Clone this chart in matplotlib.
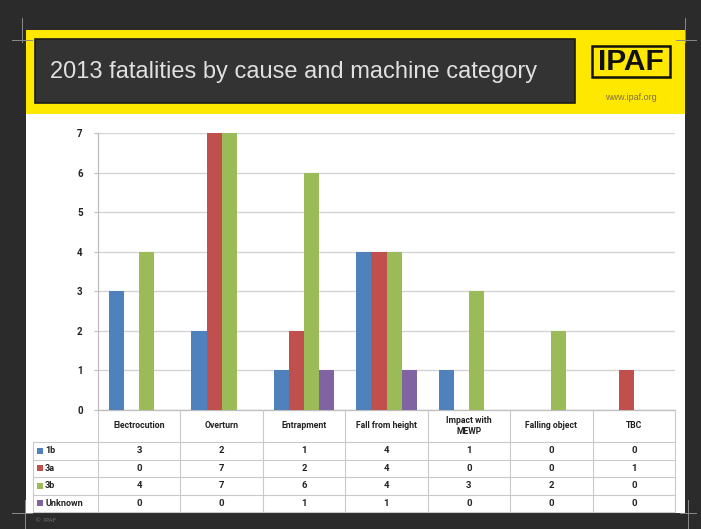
import matplotlib
matplotlib.use('Agg')
import matplotlib.pyplot as plt
from matplotlib.patches import Rectangle
from matplotlib.lines import Line2D

# ---------------- data ----------------
title = "2013 fatalities by cause and machine category"
categories = ["Electrocution", "Overturn", "Entrapment", "Fall from height",
              "Impact with\nMEWP", "Falling object", "TBC"]
series_names = ["1b", "3a", "3b", "Unknown"]
s_1b = [3, 2, 1, 4, 1, 0, 0]
s_3a = [0, 7, 2, 4, 0, 0, 1]
s_3b = [4, 7, 6, 4, 3, 2, 0]
s_unknown = [0, 0, 1, 1, 0, 0, 0]
y_ticks = [0, 1, 2, 3, 4, 5, 6, 7]

series = [s_1b, s_3a, s_3b, s_unknown]
colors = ['#4F81BD', '#C0504D', '#9BBB59', '#8064A2']

FONT = 'Roboto'

# ---------------- layout (pixels) ----------------
W, H = 701, 529
fig = plt.figure(figsize=(W / 100, H / 100), dpi=100)
fig.patch.set_facecolor('#2b2b2b')


def frect(x0, y0, x1, y1, **kw):
    fig.add_artist(Rectangle((x0 / W, 1 - y1 / H), (x1 - x0) / W, (y1 - y0) / H,
                             transform=fig.transFigure, zorder=-10, **kw))


def fline(xs, ys, **kw):
    fig.add_artist(Line2D([x / W for x in xs], [1 - y / H for y in ys],
                          transform=fig.transFigure, zorder=-5, **kw))


def ftext(x, y, s, **kw):
    fig.text(x / W, 1 - y / H, s, **kw)


# slide parts
frect(26, 30, 685, 114, facecolor='#FFE800', edgecolor='none')
frect(26, 114, 685, 513, facecolor='white', edgecolor='none')
frect(35, 39, 575, 103, facecolor='#333333', edgecolor='#1c1c1c', linewidth=1.2)
ftext(50, 72, title, color='#e0e0e0', fontsize=17, family='Liberation Sans',
      ha='left', va='center')

# logo
frect(592, 46, 670, 77, facecolor='none', edgecolor='#111111', linewidth=1.8)
ftext(631, 62, "IPAF", color='#111111', fontsize=21.5, fontweight='bold',
      family='Liberation Sans', ha='center', va='center')
ftext(631, 97, "www.ipaf.org", color='#7d7040', fontsize=6.5,
      family='Liberation Sans', ha='center', va='center')

# crop marks
for xs, ys in [([22, 22], [18, 42]), ([12, 32], [40, 40]),
               ([685, 685], [18, 42]), ([676, 696], [40, 40]),
               ([25, 25], [500, 529]), ([12, 32], [513, 513]),
               ([688, 688], [500, 529]), ([680, 696], [513, 513])]:
    fline(xs, ys, color='#8a8a8a', linewidth=0.7)

ftext(35, 520, "© IPAF", color='#6f6f6f', fontsize=4.5, ha='left', va='center')

# ---------------- chart ----------------
PL, PR, PT, PB = 98, 675, 133, 410
ax = fig.add_axes([PL / W, 1 - PB / H, (PR - PL) / W, (PB - PT) / H])
ax.set_facecolor('none')
ncat = len(categories)
bw = 0.183
for k, (vals, col) in enumerate(zip(series, colors)):
    xs = [i + 0.5 + (k - 1.5) * bw for i in range(ncat)]
    ax.bar(xs, vals, width=bw, color=col, zorder=3, linewidth=0)

ax.set_xlim(0, ncat)
ax.set_ylim(0, 7)
ax.set_yticks(y_ticks)
ax.set_yticklabels([str(v) for v in y_ticks], fontweight='bold', fontsize=7,
                   family=FONT, color='#222222')
ax.set_xticks([])
ax.grid(axis='y', color='#d4d4d4', linewidth=1.0, zorder=0)
for sp in ['top', 'right']:
    ax.spines[sp].set_visible(False)
for sp in ['left', 'bottom']:
    ax.spines[sp].set_color('#bdbdbd')
    ax.spines[sp].set_linewidth(0.9)
ax.tick_params(axis='y', length=3, width=0.8, color='#bdbdbd', pad=8)

# ---------------- data table ----------------
TL, TB = 33, 512
unit = (PR - PL) / ncat
tax = fig.add_axes([TL / W, 1 - TB / H, (PR - TL) / W, (TB - PB) / H])
tax.set_xlim(-(PL - TL) / unit, ncat)
tax.set_ylim(TB - PB, 0)
tax.axis('off')
xleft = -(PL - TL) / unit
hdr = 32
rh = (TB - PB - hdr) / len(series_names)
lc = '#c9c9c9'
for i in range(ncat + 1):
    tax.plot([i, i], [0, TB - PB], color=lc, linewidth=0.8, clip_on=False)
tax.plot([xleft, xleft], [hdr, TB - PB], color=lc, linewidth=0.8, clip_on=False)
for r in range(len(series_names) + 1):
    yy = hdr + r * rh
    tax.plot([xleft, ncat], [yy, yy], color=lc, linewidth=0.8, clip_on=False)

for i, c in enumerate(categories):
    tax.text(i + 0.5, hdr / 2, c, ha='center', va='center', fontsize=6.2,
             fontweight='bold', family=FONT, color='#222222', linespacing=1.25)

for r, (name, vals, col) in enumerate(zip(series_names, series, colors)):
    yc = hdr + (r + 0.5) * rh
    tax.add_patch(Rectangle(((37 - PL) / unit, yc - 3), 5.5 / unit, 6,
                            facecolor=col, edgecolor='none'))
    tax.text((45 - PL) / unit, yc, name, ha='left', va='center', fontsize=6.5,
             fontweight='bold', family=FONT, color='#222222')
    for i, v in enumerate(vals):
        tax.text(i + 0.5, yc, str(v), ha='center', va='center', fontsize=6.8,
                 fontweight='bold', family=FONT, color='#222222')

fig.savefig('out.png', dpi=100, facecolor=fig.get_facecolor())
